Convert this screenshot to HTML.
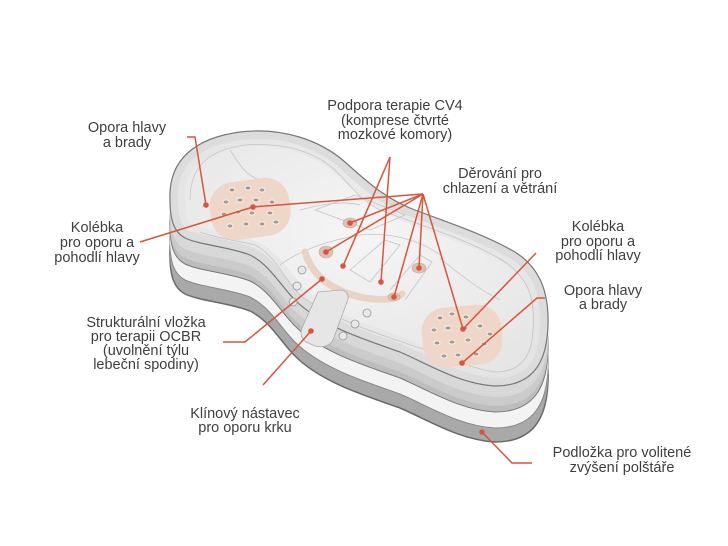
<!DOCTYPE html>
<html><head><meta charset="utf-8"><style>
html,body{margin:0;padding:0;background:#fff;}
svg{display:block;}
text{font-family:"Liberation Sans",sans-serif;font-size:14.5px;fill:#3f3f3f;text-anchor:middle;}
</style></head><body>
<svg width="728" height="546" viewBox="0 0 728 546" xmlns="http://www.w3.org/2000/svg">
<defs>
<path id="P" d="M170,200 C168,160 195,138 240,132 C282,127 320,140 345,162 C365,180 385,198 410,208 C440,220 480,232 515,252 C540,268 549,292 548,325 C547,360 535,386 495,386 C460,384 430,365 400,352 C360,338 320,325 295,300 C280,285 270,265 250,255 C230,247 200,245 185,238 C174,232 170,220 170,200 Z"/>
<clipPath id="cp"><use href="#P"/></clipPath>
<radialGradient id="top" cx="0.5" cy="0.4" r="0.7"><stop offset="0" stop-color="#f5f5f5"/><stop offset="1" stop-color="#e4e4e4"/></radialGradient>
</defs>
<g fill="#a9a9a9">
<use href="#P" transform="translate(0,56)" stroke="#6a6a6a" stroke-width="1.5"/>
<use href="#P" transform="translate(0,52)"/><use href="#P" transform="translate(0,48)"/><use href="#P" transform="translate(0,44)"/>
</g>
<g fill="#f3f3f3">
<use href="#P" transform="translate(0,42)" stroke="#888" stroke-width="1"/>
<use href="#P" transform="translate(0,38)"/><use href="#P" transform="translate(0,34)"/><use href="#P" transform="translate(0,30)"/><use href="#P" transform="translate(0,27)"/>
</g>
<g fill="#bdbdbd">
<use href="#P" transform="translate(0,26)" stroke="#777" stroke-width="1"/>
<use href="#P" transform="translate(0,24)"/><use href="#P" transform="translate(0,22)"/>
</g>
<g fill="#cbcbcb">
<use href="#P" transform="translate(0,20)"/><use href="#P" transform="translate(0,17)"/><use href="#P" transform="translate(0,14)"/>
</g>
<g fill="#d8d8d8">
<use href="#P" transform="translate(0,11)"/><use href="#P" transform="translate(0,8)"/><use href="#P" transform="translate(0,5)"/><use href="#P" transform="translate(0,2)"/>
</g>
<use href="#P" fill="url(#top)"/>
<g clip-path="url(#cp)"><use href="#P" fill="none" stroke="#d6d6d6" stroke-width="16"/><use href="#P" fill="none" stroke="#e2e2e2" stroke-width="30" opacity="0.5"/></g>
<use href="#P" fill="none" stroke="#777" stroke-width="1.2"/>
<g fill="none" stroke="#c4c4c4" stroke-width="0.8">
<path d="M190,200 C190,165 210,150 245,145 C285,142 315,152 335,170 C350,185 360,200 380,210 C420,225 470,240 505,262 C530,280 535,300 533,330 C532,355 522,372 495,372"/>
<path d="M200,232 C215,238 235,240 255,245 C275,255 285,280 300,295 C330,318 380,335 420,348 C450,358 470,368 495,372"/>
<path d="M300,210 C320,205 340,200 360,205"/>
<path d="M280,265 C300,250 330,240 360,235 C390,232 420,240 440,255"/>
<path d="M315,210 L355,195 L405,215 L370,230 Z"/>
<path d="M350,270 L385,240 L400,245 L370,282 Z"/>
<path d="M390,290 L420,255 L432,262 L405,300"/>
<path d="M440,258 C460,275 480,290 500,300"/>
<path d="M230,150 C240,165 245,175 260,180"/>
</g>
<path d="M305,252 C312,275 330,290 360,297 C380,301 395,300 402,294" fill="none" stroke="#e9cfc0" stroke-width="7" stroke-linecap="round" opacity="0.9"/>
<path d="M318,292 L340,290 C347,290 350,296 347,302 L333,340 C330,346 322,348 315,346 L306,342 C301,339 300,333 302,328 Z" fill="#e6e6e6" stroke="#aaa" stroke-width="0.8"/>
<g fill="#e8e8e8" stroke="#999" stroke-width="0.8">
<circle cx="302" cy="270" r="4"/><circle cx="297" cy="286" r="4"/><circle cx="293" cy="302" r="4"/>
<circle cx="367" cy="313" r="4"/><circle cx="355" cy="324" r="4"/><circle cx="343" cy="336" r="4"/>
</g>
<g fill="#dcc0b3" stroke="#c9a898" stroke-width="0.6">
<ellipse cx="350" cy="223" rx="7" ry="5"/><ellipse cx="326" cy="252" rx="7" ry="6"/><ellipse cx="419" cy="268" rx="7" ry="5"/><ellipse cx="394" cy="297" rx="6" ry="4"/>
</g>
<g transform="rotate(-8 250 208)"><rect x="210" y="180" width="80" height="58" rx="24" fill="#eed6c9"/></g>
<g transform="rotate(-5 463 335)"><rect x="422" y="306" width="80" height="60" rx="24" fill="#eed6c9"/></g>
<g fill="#a89890" stroke="#fff" stroke-width="0.8">
<ellipse cx="232" cy="190" rx="3" ry="2"/><ellipse cx="248" cy="188" rx="3" ry="2"/><ellipse cx="262" cy="190" rx="3" ry="2"/>
<ellipse cx="226" cy="202" rx="3" ry="2"/><ellipse cx="240" cy="200" rx="3" ry="2"/><ellipse cx="256" cy="200" rx="3" ry="2"/><ellipse cx="272" cy="202" rx="3" ry="2"/>
<ellipse cx="224" cy="214" rx="3" ry="2"/><ellipse cx="238" cy="212" rx="3" ry="2"/><ellipse cx="252" cy="213" rx="3" ry="2"/><ellipse cx="270" cy="213" rx="3" ry="2"/>
<ellipse cx="230" cy="226" rx="3" ry="2"/><ellipse cx="246" cy="224" rx="3" ry="2"/><ellipse cx="262" cy="224" rx="3" ry="2"/><ellipse cx="276" cy="222" rx="3" ry="2"/>
<ellipse cx="440" cy="318" rx="3" ry="2"/><ellipse cx="452" cy="314" rx="3" ry="2"/><ellipse cx="466" cy="317" rx="3" ry="2"/>
<ellipse cx="434" cy="330" rx="3" ry="2"/><ellipse cx="448" cy="328" rx="3" ry="2"/><ellipse cx="465" cy="328" rx="3" ry="2"/><ellipse cx="480" cy="326" rx="3" ry="2"/><ellipse cx="490" cy="334" rx="3" ry="2"/>
<ellipse cx="437" cy="343" rx="3" ry="2"/><ellipse cx="452" cy="342" rx="3" ry="2"/><ellipse cx="468" cy="340" rx="3" ry="2"/><ellipse cx="484" cy="344" rx="3" ry="2"/>
<ellipse cx="444" cy="356" rx="3" ry="2"/><ellipse cx="458" cy="355" rx="3" ry="2"/><ellipse cx="476" cy="354" rx="3" ry="2"/>
</g>
<g stroke="#d9553b" stroke-width="1.5" fill="none">
<polyline points="187,137 195,137 206,205"/>
<line x1="140" y1="242" x2="253" y2="207"/>
<line x1="423" y1="194" x2="253" y2="207"/>
<line x1="423" y1="194" x2="350" y2="223"/>
<line x1="423" y1="194" x2="326" y2="252"/>
<line x1="423" y1="194" x2="419" y2="268"/>
<line x1="423" y1="194" x2="394" y2="297"/>
<line x1="423" y1="194" x2="463" y2="329"/>
<line x1="390" y1="157" x2="343" y2="266"/>
<line x1="390" y1="157" x2="381" y2="282"/>
<polyline points="223,342 245,342 322,279"/>
<line x1="263" y1="385" x2="311" y2="331"/>
<line x1="536" y1="253" x2="463" y2="329"/>
<polyline points="545,298 537,298 462,363"/>
<polyline points="482,432 512,463 532,463"/>
</g>
<g fill="#d9553b">
<circle cx="206" cy="205" r="2.8"/><circle cx="253" cy="207" r="2.8"/><circle cx="350" cy="223" r="2.8"/><circle cx="326" cy="252" r="2.8"/>
<circle cx="419" cy="268" r="2.8"/><circle cx="394" cy="297" r="2.8"/><circle cx="463" cy="329" r="2.8"/><circle cx="343" cy="266" r="2.8"/>
<circle cx="381" cy="282" r="2.8"/><circle cx="322" cy="279" r="2.8"/><circle cx="311" cy="331" r="2.8"/><circle cx="462" cy="363" r="2.8"/><circle cx="482" cy="432" r="2.8"/>
</g>
<text x="395" y="110">Podpora terapie CV4</text>
<text x="395" y="125">(komprese čtvrté</text>
<text x="395" y="139">mozkové komory)</text>
<text x="127" y="132">Opora hlavy</text>
<text x="127" y="147">a brady</text>
<text x="500" y="178">Děrování pro</text>
<text x="500" y="193">chlazení a větrání</text>
<text x="97" y="232">Kolébka</text>
<text x="97" y="247">pro oporu a</text>
<text x="97" y="262">pohodlí hlavy</text>
<text x="598" y="231">Kolébka</text>
<text x="598" y="246">pro oporu a</text>
<text x="598" y="260">pohodlí hlavy</text>
<text x="603" y="295">Opora hlavy</text>
<text x="603" y="309">a brady</text>
<text x="146" y="327">Strukturální vložka</text>
<text x="146" y="341">pro terapii OCBR</text>
<text x="146" y="355">(uvolnění týlu</text>
<text x="146" y="369">lebeční spodiny)</text>
<text x="245" y="418">Klínový nástavec</text>
<text x="245" y="432">pro oporu krku</text>
<text x="622" y="457">Podložka pro volitené</text>
<text x="622" y="472">zvýšení polštáře</text>
</svg>
</body></html>
